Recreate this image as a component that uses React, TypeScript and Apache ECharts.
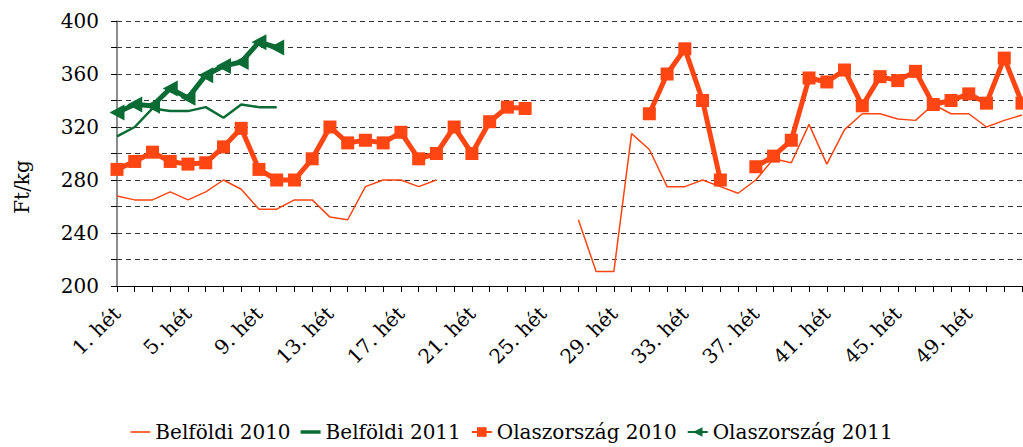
import React, { useEffect, useRef } from "react";
import * as echarts from "echarts";

const weeks: string[] = Array.from({ length: 52 }, (_, i) => `${i + 1}. hét`);

const belfoldi2010: (number | null)[] = [
  268, 265, 265, 271, 265, 271, 280, 273, 258, 258, 265, 265, 252, 250, 275, 280, 280, 275, 280,
  null, null, null, null, null, null, null,
  250, 211, 211, 315, 303, 275, 275, 280, 275, 270, 280, 296, 293, 322, 292, 318, 330, 330, 326,
  325, 337, 330, 330, 320, 325, 329,
];

const belfoldi2011: (number | null)[] = [313, 320, 334, 332, 332, 335, 327, 337, 335, 335];

const olasz2010: (number | null)[] = [
  288, 294, 301, 294, 292, 293, 305, 319, 288, 280, 280, 296, 320, 308, 310, 308, 316, 296, 300,
  320, 300, 324, 335, 334,
  null, null, null, null, null, null,
  330, 360, 379, 340, 280,
  null,
  290, 298, 310, 357, 354, 363, 336, 358, 355, 362, 337, 340, 345, 338, 372, 338,
];

const olasz2011: (number | null)[] = [331, 337, 336, 349, 342, 359, 366, 369, 384, 380];

const yAxisName = "Ft/kg";

const ORANGE = "#ff4511";
const GREEN = "#0a6b34";
const FONT = "DejaVu Serif";

export default function App() {
  const ref = useRef<HTMLDivElement>(null);
  useEffect(() => {
    if (!ref.current) return;
    const chart = echarts.init(ref.current, null, { renderer: "svg" });
    chart.setOption({
      animation: false,
      textStyle: { fontFamily: FONT, color: "#000" },
      grid: { left: 117, top: 21, right: 1, bottom: 161 },
      graphic: [
        {
          type: "text",
          x: 22,
          y: 187,
          rotation: Math.PI / 2,
          style: {
            text: yAxisName,
            fontFamily: FONT,
            fontSize: 20,
            fill: "#000",
            textAlign: "center",
            textVerticalAlign: "middle",
          },
        },
      ],
      legend: {
        bottom: 0,
        left: "center",
        itemGap: 10,
        itemWidth: 20,
        itemHeight: 12,
        textStyle: { fontFamily: FONT, fontSize: 20, color: "#000" },
        data: [
          { name: "Belföldi 2010", icon: "path://M0,0 L20,0 L20,1.6 L0,1.6 Z" },
          { name: "Belföldi 2011", icon: "path://M0,0 L20,0 L20,3.5 L0,3.5 Z" },
          { name: "Olaszország 2010" },
          { name: "Olaszország 2011" },
        ],
      },
      xAxis: {
        type: "category",
        data: weeks,
        boundaryGap: false,
        axisLine: { lineStyle: { color: "#000", width: 1 } },
        axisTick: { show: true, interval: 0, length: 6, lineStyle: { color: "#000" } },
        axisLabel: {
          interval: 3,
          rotate: 45,
          margin: 24,
          fontFamily: FONT,
          fontSize: 20,
          color: "#000",
        },
        splitLine: { show: false },
      },
      yAxis: {
        type: "value",
        min: 200,
        max: 400,
        interval: 20,
        axisLine: { show: true, lineStyle: { color: "#666", width: 1.5 } },
        axisTick: { show: true, length: 6, lineStyle: { color: "#000" } },
        axisLabel: {
          margin: 18,
          fontFamily: FONT,
          fontSize: 20,
          color: "#000",
          formatter: (v: number) => (v % 40 === 0 ? String(v) : ""),
        },
        splitLine: {
          show: true,
          lineStyle: { type: [5, 4], color: "#333", width: 1.2 },
        },
      },
      series: [
        {
          name: "Belföldi 2010",
          type: "line",
          data: belfoldi2010,
          symbol: "none",
          connectNulls: false,
          lineStyle: { color: ORANGE, width: 1.5 },
          itemStyle: { color: ORANGE },
          z: 2,
        },
        {
          name: "Belföldi 2011",
          type: "line",
          data: belfoldi2011,
          symbol: "none",
          lineStyle: { color: GREEN, width: 2.5 },
          itemStyle: { color: GREEN },
          z: 2,
        },
        {
          name: "Olaszország 2010",
          type: "line",
          data: olasz2010,
          symbol: "rect",
          symbolSize: 13,
          showAllSymbol: true,
          connectNulls: false,
          lineStyle: { color: ORANGE, width: 5 },
          itemStyle: { color: ORANGE },
          z: 3,
        },
        {
          name: "Olaszország 2011",
          type: "line",
          data: olasz2011,
          symbol: "triangle",
          symbolRotate: 90,
          symbolSize: [16, 15],
          showAllSymbol: true,
          lineStyle: { color: GREEN, width: 5 },
          itemStyle: { color: GREEN },
          z: 3,
        },
      ],
    });
    return () => chart.dispose();
  }, []);
  return (
    <div
      ref={ref}
      style={{ position: "absolute", left: 0, top: 0, width: 1023, height: 447 }}
    />
  );
}
